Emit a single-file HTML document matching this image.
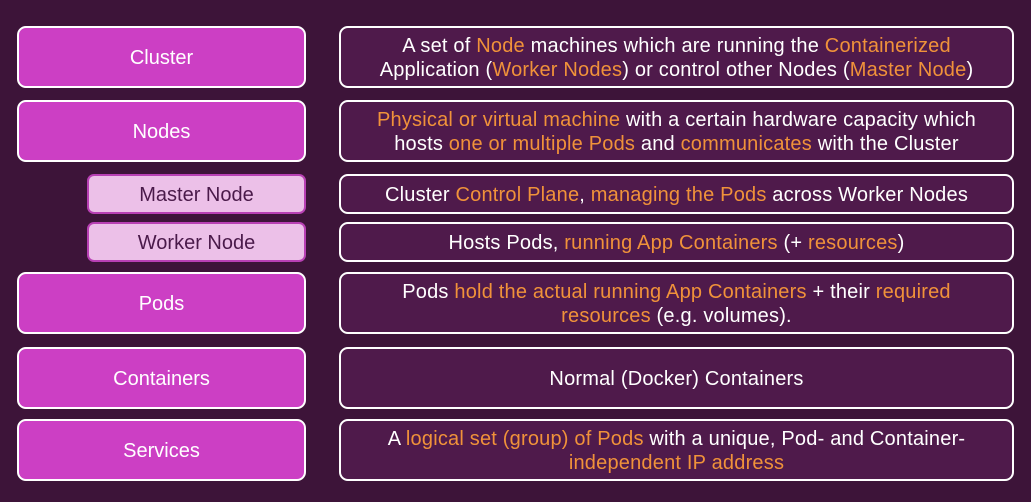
<!DOCTYPE html>
<html><head><style>
body{margin:0;width:1031px;height:502px;background:#3d1439;font-family:"Liberation Sans",sans-serif;overflow:hidden;position:relative}
.b{position:absolute;box-sizing:border-box;border-radius:9px;display:flex;align-items:center;justify-content:center;text-align:center;font-size:20px;line-height:24px;padding-top:2px}
.l{left:17px;width:289px;background:#cc3fc4;border:2.5px solid #fff;color:#fff}
.s{left:87px;width:219px;background:#ecc0e8;border:2.5px solid #b840b4;color:#4a1a4a;border-radius:7px}
.r{left:339px;width:675px;background:#4f1a4b;border:2.5px solid #fff;color:#fff;letter-spacing:0.2px}
.o{color:#f0923a}
</style></head><body>
<div class="b l" style="top:26px;height:62px">Cluster</div>
<div class="b l" style="top:100px;height:62px">Nodes</div>
<div class="b s" style="top:174px;height:40px">Master Node</div>
<div class="b s" style="top:222px;height:40px">Worker Node</div>
<div class="b l" style="top:272px;height:62px">Pods</div>
<div class="b l" style="top:347px;height:62px">Containers</div>
<div class="b l" style="top:419px;height:62px">Services</div>

<div class="b r" style="top:26px;height:62px"><div>A set of <span class="o">Node</span> machines which are running the <span class="o">Containerized</span><br>Application (<span class="o">Worker Nodes</span>) or control other Nodes (<span class="o">Master Node</span>)</div></div>
<div class="b r" style="top:100px;height:62px"><div><span class="o">Physical or virtual machine</span> with a certain hardware capacity which<br>hosts <span class="o">one or multiple Pods</span> and <span class="o">communicates</span> with the Cluster</div></div>
<div class="b r" style="top:174px;height:40px"><div>Cluster <span class="o">Control Plane</span>, <span class="o">managing the Pods</span> across Worker Nodes</div></div>
<div class="b r" style="top:222px;height:40px"><div>Hosts Pods, <span class="o">running App Containers</span> (+ <span class="o">resources</span>)</div></div>
<div class="b r" style="top:272px;height:62px"><div>Pods <span class="o">hold the actual running App Containers</span> + their <span class="o">required</span><br><span class="o">resources</span> (e.g. volumes).</div></div>
<div class="b r" style="top:347px;height:62px"><div>Normal (Docker) Containers</div></div>
<div class="b r" style="top:419px;height:62px"><div>A <span class="o">logical set (group) of Pods</span> with a unique, Pod- and Container-<br><span class="o">independent IP address</span></div></div>
</body></html>
